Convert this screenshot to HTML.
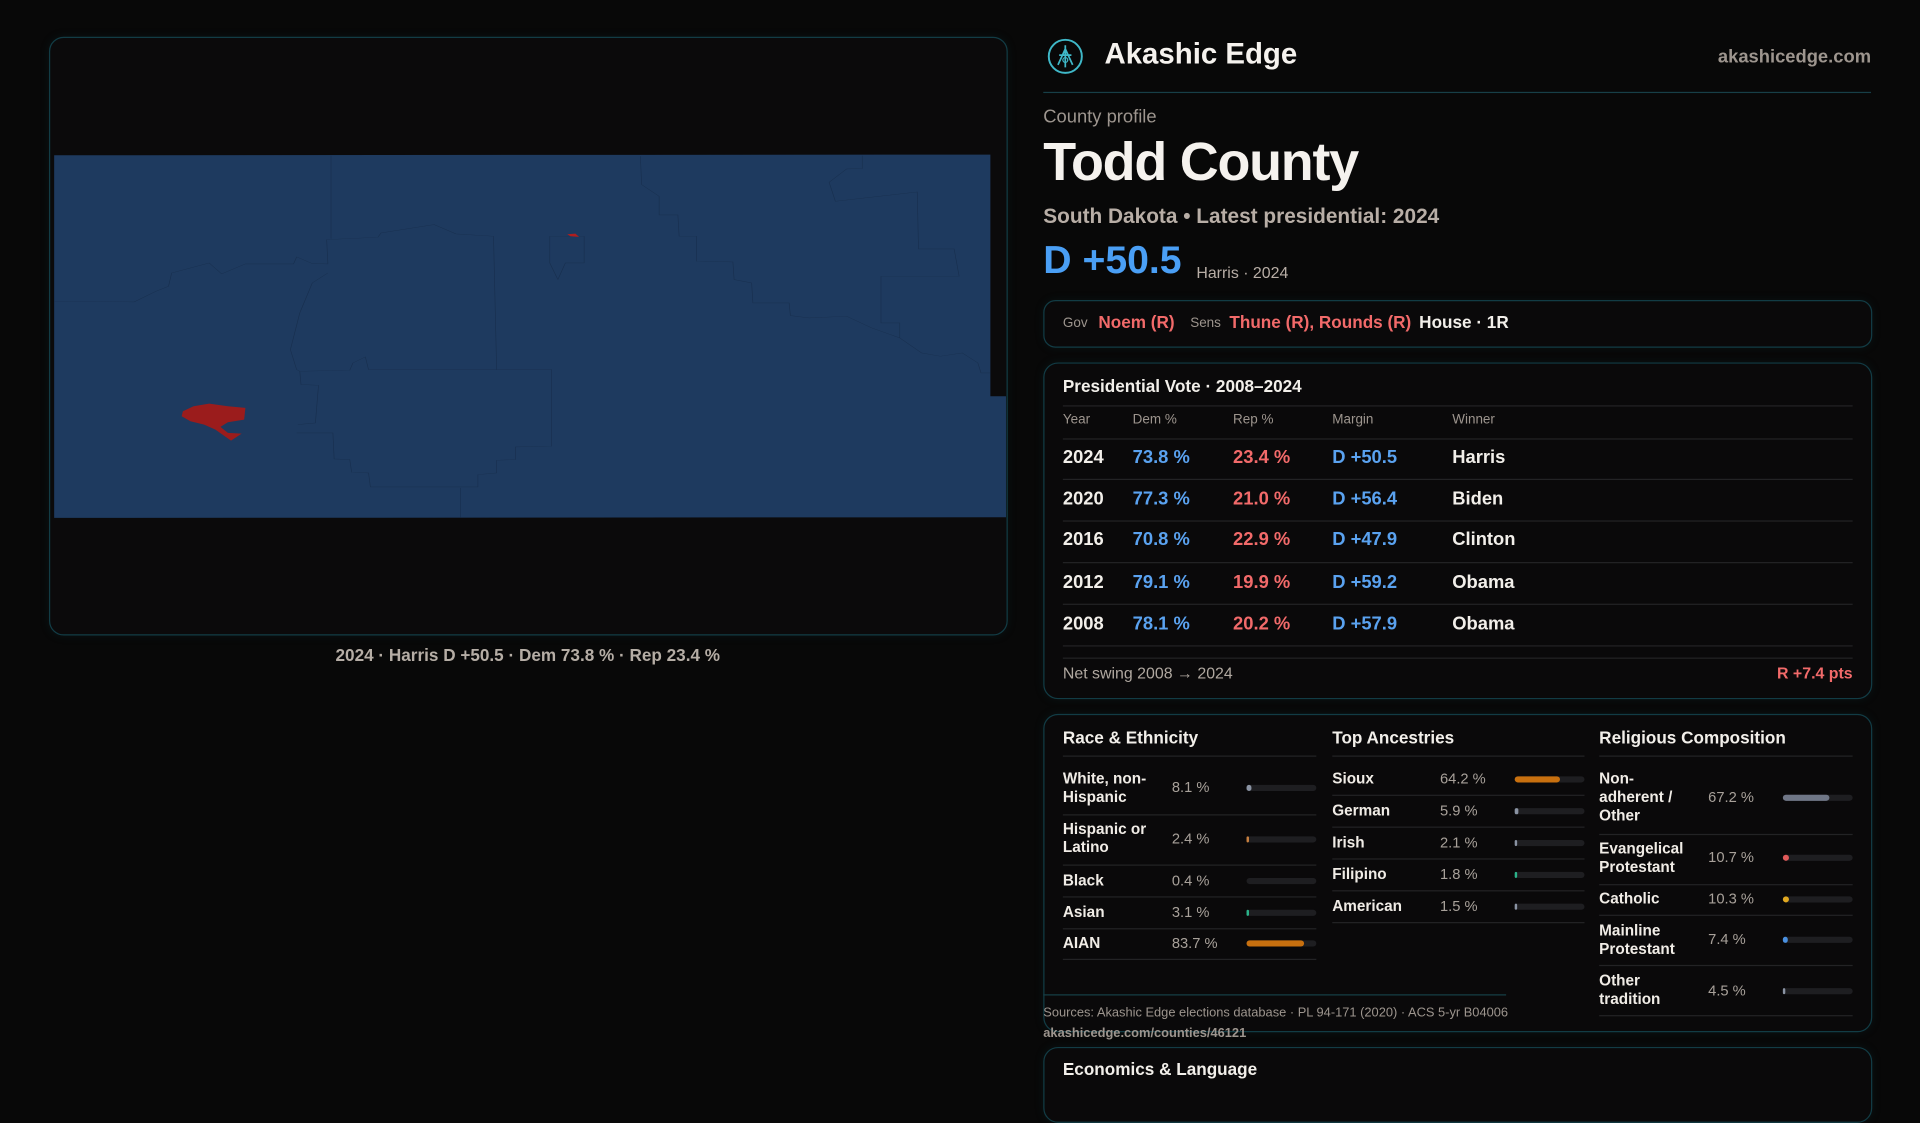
<!DOCTYPE html>
<html><head><meta charset="utf-8"><style>
html,body{margin:0;padding:0;background:#080808;width:1920px;height:1080px;overflow:hidden}
#w{position:absolute;left:0;top:0;width:1568px;height:882px;transform:scale(1.22449);transform-origin:0 0;font-family:"Liberation Sans",sans-serif;color:#f2efea}
.a{position:absolute;white-space:nowrap}
.g{color:#9d958e}
.panel{position:absolute;border:1px solid #123c45;border-radius:12px;background:#0a090a;box-shadow:0 0 8px rgba(20,80,90,.15)}
.hl{position:absolute;height:1px;background:#232325}
.bl{color:#5aa2f0}.rd{color:#f26a6a}
.bar{position:absolute;height:5px;border-radius:3px;background:#1e1e21}
.bar i{position:absolute;left:0;top:0;height:5px;border-radius:3px}
.t15{font-size:15px;font-weight:bold}
.lab{font-size:12.5px;font-weight:bold;line-height:15px;color:#f0ece6}
.pc{font-size:12px;color:#a8a19a}
</style></head><body><div id="w">

<div class="panel" style="left:40px;top:30px;width:781px;height:487px;background:#0b0a0b"></div>
<svg class="a" style="left:32.67px;top:114.33px" width="800.3" height="318.5" viewBox="0 0 1568 1170" preserveAspectRatio="none">
<polygon points="22,47 1520,45 1520,770 1545,770 1545,1133 22,1135" fill="#1e3a5f"/>
<g fill="none" stroke="#182f4e" stroke-width="1" vector-effect="non-scaling-stroke">
<polyline points="22,485 150,487 185,455 205,440 210,400 270,370 290,403 328,373 405,373 410,352 435,372 460,373 458,300 540,293 545,280 630,255 665,283 725,290 730,690"/>
<polyline points="465,48 465,297"/>
<polyline points="460,400 435,430 415,520 400,630 410,690 415,695 495,692 500,670 520,652 525,690 818,690 818,920 760,922 760,960 730,962 730,1000 700,1005 700,1042 528,1042 525,1000 498,998 495,960 470,958 468,880 410,880"/>
<polyline points="415,695 417,735 445,737 440,850 412,855"/>
<polyline points="672,1045 672,1133"/>
<polyline points="815,290 870,290 870,370 840,370 828,420 815,370 815,290"/>
<polyline points="960,50 962,135 990,170 990,226 1020,226 1022,290 1050,290 1050,365 1108,367 1110,420 1138,430 1140,490 1198,490 1200,528 1230,535 1290,530 1330,565 1375,595 1410,640 1440,650 1475,640 1500,670 1505,700 1520,700"/>
<polyline points="1315,48 1315,87 1290,88 1262,128 1272,185 1403,157 1405,328 1462,328 1470,410 1345,410 1345,550 1375,550 1375,595"/>
</g>
<polygon points="228,815 245,800 270,792 300,800 328,805 326,840 300,848 288,862 300,880 322,882 305,903 280,870 262,855 240,845 226,830" fill="#9b1c1c"/>
<polygon points="843,284 856,282 862,292 848,290" fill="#b01e1e"/>
</svg>
<div class="a" style="left:0;width:862px;text-align:center;top:527px;font-size:14px;font-weight:bold;color:#b5ada5">2024 · Harris D +50.5 · Dem 73.8 % · Rep 23.4 %</div>

<svg class="a" style="left:855px;top:31px" width="30" height="30" viewBox="0 0 30 30"><circle cx="15" cy="15" r="13.5" fill="none" stroke="#3fb8c8" stroke-width="1.6"/><path d="M15 6 L15 24 M9 22 L15 9 L21 22 M10 14 L20 14" stroke="#3fb8c8" stroke-width="1.4" fill="none"/><circle cx="15" cy="18" r="2" fill="none" stroke="#3fb8c8"/></svg>
<div class="a" style="left:902px;top:31px;font-size:24px;font-weight:bold;color:#f5f2ee">Akashic Edge</div>
<div class="a" style="right:40px;top:38px;font-size:15px;font-weight:bold;color:#9d958e">akashicedge.com</div>
<div class="a" style="left:852px;top:75px;width:676px;height:1px;background:#173f47"></div>
<div class="a g" style="left:852px;top:87px;font-size:15px">County profile</div>
<div class="a" style="left:852px;top:108px;font-size:44px;font-weight:bold;color:#f5f2ee;letter-spacing:-1px">Todd County</div>
<div class="a" style="left:852px;top:167px;font-size:17px;font-weight:bold;color:#b8aea6">South Dakota • Latest presidential: 2024</div>
<div class="a" style="left:852px;top:194px;font-size:32px;font-weight:bold;color:#4a9ff5">D +50.5</div>
<div class="a" style="left:977px;top:215px;font-size:13px;color:#b8aea6">Harris · 2024</div>

<div class="panel" style="left:852px;top:245px;width:675px;height:37px;border-radius:10px"></div>
<div class="a g" style="left:868px;top:258px;font-size:11px">Gov</div>
<div class="a rd" style="left:897px;top:255px;font-size:14px;font-weight:bold">Noem (R)</div>
<div class="a g" style="left:972px;top:258px;font-size:11px">Sens</div>
<div class="a rd" style="left:1004px;top:255px;font-size:14px;font-weight:bold">Thune (R), Rounds (R)</div>
<div class="a" style="left:1159px;top:255px;font-size:14px;font-weight:bold">House · 1R</div>

<div class="panel" style="left:852px;top:296px;width:675px;height:273px"></div>
<div class="a" style="left:868px;top:307px;font-size:14px;font-weight:bold">Presidential Vote · 2008–2024</div>
<div class="hl" style="left:868px;top:331px;width:645px"></div>
<div class="a g" style="left:868px;top:337px;font-size:11px">Year</div>
<div class="a g" style="left:925px;top:337px;font-size:11px">Dem %</div>
<div class="a g" style="left:1007px;top:337px;font-size:11px">Rep %</div>
<div class="a g" style="left:1088px;top:337px;font-size:11px">Margin</div>
<div class="a g" style="left:1186px;top:337px;font-size:11px">Winner</div>
<div class="hl" style="left:868px;top:358px;width:645px"></div>
<div class="hl" style="left:868px;top:391px;width:645px"></div>
<div class="hl" style="left:868px;top:425px;width:645px"></div>
<div class="hl" style="left:868px;top:459px;width:645px"></div>
<div class="hl" style="left:868px;top:493px;width:645px"></div>
<div class="hl" style="left:868px;top:527px;width:645px"></div>
<div class="hl" style="left:868px;top:537px;width:645px"></div>

<div class="a t15" style="left:868px;top:365px">2024</div><div class="a t15 bl" style="left:925px;top:365px">73.8 %</div><div class="a t15 rd" style="left:1007px;top:365px">23.4 %</div><div class="a t15 bl" style="left:1088px;top:365px">D +50.5</div><div class="a t15" style="left:1186px;top:365px">Harris</div>
<div class="a t15" style="left:868px;top:399px">2020</div><div class="a t15 bl" style="left:925px;top:399px">77.3 %</div><div class="a t15 rd" style="left:1007px;top:399px">21.0 %</div><div class="a t15 bl" style="left:1088px;top:399px">D +56.4</div><div class="a t15" style="left:1186px;top:399px">Biden</div>
<div class="a t15" style="left:868px;top:432px">2016</div><div class="a t15 bl" style="left:925px;top:432px">70.8 %</div><div class="a t15 rd" style="left:1007px;top:432px">22.9 %</div><div class="a t15 bl" style="left:1088px;top:432px">D +47.9</div><div class="a t15" style="left:1186px;top:432px">Clinton</div>
<div class="a t15" style="left:868px;top:467px">2012</div><div class="a t15 bl" style="left:925px;top:467px">79.1 %</div><div class="a t15 rd" style="left:1007px;top:467px">19.9 %</div><div class="a t15 bl" style="left:1088px;top:467px">D +59.2</div><div class="a t15" style="left:1186px;top:467px">Obama</div>
<div class="a t15" style="left:868px;top:501px">2008</div><div class="a t15 bl" style="left:925px;top:501px">78.1 %</div><div class="a t15 rd" style="left:1007px;top:501px">20.2 %</div><div class="a t15 bl" style="left:1088px;top:501px">D +57.9</div><div class="a t15" style="left:1186px;top:501px">Obama</div>
<div class="a g" style="left:868px;top:542px;font-size:13px;color:#b0a8a0">Net swing 2008 → 2024</div>
<div class="a rd" style="right:55px;top:542px;font-size:13px;font-weight:bold">R +7.4 pts</div>

<div class="panel" style="left:852px;top:583px;width:675px;height:258px"></div>
<div class="a" style="left:868px;top:594px;font-size:14px;font-weight:bold">Race &amp; Ethnicity</div>
<div class="a" style="left:1088px;top:594px;font-size:14px;font-weight:bold">Top Ancestries</div>
<div class="a" style="left:1306px;top:594px;font-size:14px;font-weight:bold">Religious Composition</div>
<div class="hl" style="left:868px;top:617px;width:207px"></div>
<div class="hl" style="left:1088px;top:617px;width:206px"></div>
<div class="hl" style="left:1306px;top:617px;width:207px"></div>

<div class="a lab" style="left:868px;top:629px">White, non-<br>Hispanic</div><div class="a pc" style="left:957px;top:636px">8.1 %</div><div class="bar" style="left:1018px;top:641px;width:57px"><i style="width:4px;background:#8a93a3"></i></div>
<div class="hl" style="left:868px;top:665px;width:207px"></div>
<div class="a lab" style="left:868px;top:670px">Hispanic or<br>Latino</div><div class="a pc" style="left:957px;top:678px">2.4 %</div><div class="bar" style="left:1018px;top:683px;width:57px"><i style="width:1.5px;background:#c88040"></i></div>
<div class="hl" style="left:868px;top:706px;width:207px"></div>
<div class="a lab" style="left:868px;top:712px">Black</div><div class="a pc" style="left:957px;top:712px">0.4 %</div><div class="bar" style="left:1018px;top:717px;width:57px"></div>
<div class="hl" style="left:868px;top:732px;width:207px"></div>
<div class="a lab" style="left:868px;top:738px">Asian</div><div class="a pc" style="left:957px;top:738px">3.1 %</div><div class="bar" style="left:1018px;top:743px;width:57px"><i style="width:2px;background:#2bb38a"></i></div>
<div class="hl" style="left:868px;top:758px;width:207px"></div>
<div class="a lab" style="left:868px;top:763px">AIAN</div><div class="a pc" style="left:957px;top:763px">83.7 %</div><div class="bar" style="left:1018px;top:768px;width:57px"><i style="width:47px;background:#c8700f"></i></div>
<div class="hl" style="left:868px;top:783px;width:207px"></div>

<div class="a lab" style="left:1088px;top:629px">Sioux</div><div class="a pc" style="left:1176px;top:629px">64.2 %</div><div class="bar" style="left:1237px;top:634px;width:57px"><i style="width:37px;background:#c8700f"></i></div>
<div class="hl" style="left:1088px;top:649px;width:206px"></div>
<div class="a lab" style="left:1088px;top:655px">German</div><div class="a pc" style="left:1176px;top:655px">5.9 %</div><div class="bar" style="left:1237px;top:660px;width:57px"><i style="width:3px;background:#8a93a3"></i></div>
<div class="hl" style="left:1088px;top:675px;width:206px"></div>
<div class="a lab" style="left:1088px;top:681px">Irish</div><div class="a pc" style="left:1176px;top:681px">2.1 %</div><div class="bar" style="left:1237px;top:686px;width:57px"><i style="width:1.5px;background:#8a93a3"></i></div>
<div class="hl" style="left:1088px;top:701px;width:206px"></div>
<div class="a lab" style="left:1088px;top:707px">Filipino</div><div class="a pc" style="left:1176px;top:707px">1.8 %</div><div class="bar" style="left:1237px;top:712px;width:57px"><i style="width:1.5px;background:#2bb38a"></i></div>
<div class="hl" style="left:1088px;top:727px;width:206px"></div>
<div class="a lab" style="left:1088px;top:733px">American</div><div class="a pc" style="left:1176px;top:733px">1.5 %</div><div class="bar" style="left:1237px;top:738px;width:57px"><i style="width:1.5px;background:#8a93a3"></i></div>
<div class="hl" style="left:1088px;top:753px;width:206px"></div>

<div class="a lab" style="left:1306px;top:629px">Non-<br>adherent /<br>Other</div><div class="a pc" style="left:1395px;top:644px">67.2 %</div><div class="bar" style="left:1456px;top:649px;width:57px"><i style="width:38px;background:#6f7686"></i></div>
<div class="hl" style="left:1306px;top:681px;width:207px"></div>
<div class="a lab" style="left:1306px;top:686px">Evangelical<br>Protestant</div><div class="a pc" style="left:1395px;top:693px">10.7 %</div><div class="bar" style="left:1456px;top:698px;width:57px"><i style="width:5px;background:#e05a5a"></i></div>
<div class="hl" style="left:1306px;top:722px;width:207px"></div>
<div class="a lab" style="left:1306px;top:727px">Catholic</div><div class="a pc" style="left:1395px;top:727px">10.3 %</div><div class="bar" style="left:1456px;top:732px;width:57px"><i style="width:5px;background:#e0a820"></i></div>
<div class="hl" style="left:1306px;top:747px;width:207px"></div>
<div class="a lab" style="left:1306px;top:753px">Mainline<br>Protestant</div><div class="a pc" style="left:1395px;top:760px">7.4 %</div><div class="bar" style="left:1456px;top:765px;width:57px"><i style="width:4px;background:#4a90e0"></i></div>
<div class="hl" style="left:1306px;top:788px;width:207px"></div>
<div class="a lab" style="left:1306px;top:794px">Other<br>tradition</div><div class="a pc" style="left:1395px;top:802px">4.5 %</div><div class="bar" style="left:1456px;top:807px;width:57px"><i style="width:2px;background:#8a93a3"></i></div>
<div class="hl" style="left:1306px;top:829px;width:207px"></div>

<div class="a" style="left:852px;top:812px;width:378px;height:1px;background:#173f47"></div>
<div class="a g" style="left:852px;top:821px;font-size:10.5px">Sources: Akashic Edge elections database · PL 94-171 (2020) · ACS 5-yr B04006</div>
<div class="a g" style="left:852px;top:838px;font-size:10.5px;font-weight:bold">akashicedge.com/counties/46121</div>

<div class="panel" style="left:852px;top:855px;width:675px;height:60px"></div>
<div class="a" style="left:868px;top:865px;font-size:14px;font-weight:bold">Economics &amp; Language</div>
</div></body></html>
